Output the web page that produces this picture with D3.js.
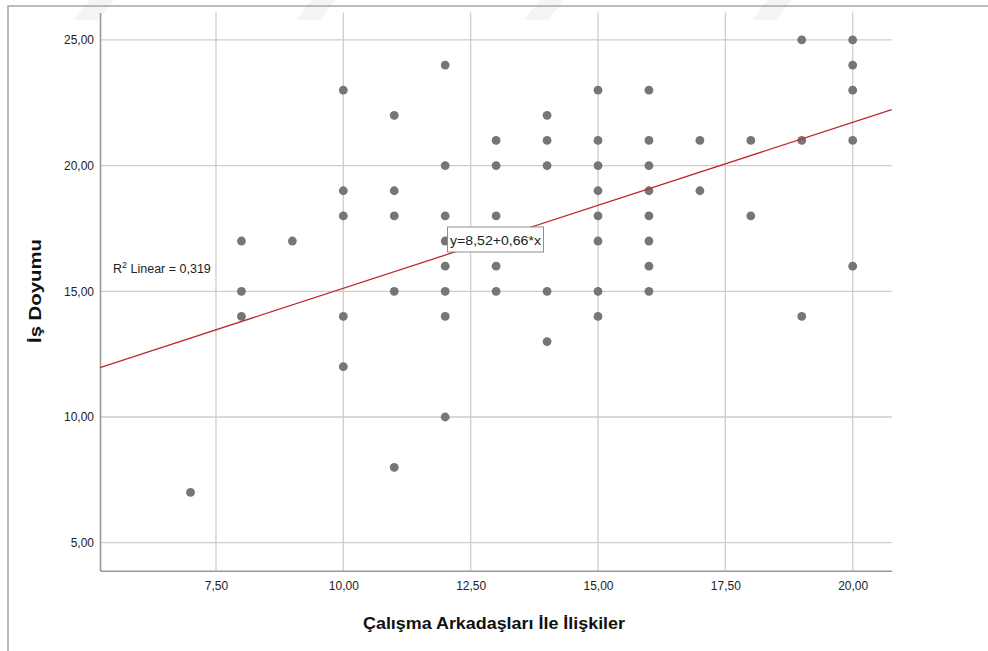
<!DOCTYPE html>
<html>
<head>
<meta charset="utf-8">
<script src="https://cdn.jsdelivr.net/npm/d3@7"></script>
<style>
  html, body { margin: 0; padding: 0; background: #ffffff; }
  svg { display: block; font-family: "Liberation Sans", Arial, sans-serif; }
</style>
</head>
<body>
<svg id="chart" width="988" height="651"></svg>
<script>
// Çalışma Arkadaşları İle İlişkiler (x) vs İş Doyumu (y), one entry per respondent
const xValues = [
  7,
  8, 8, 8,
  9,
  10, 10, 10, 10, 10,
  11, 11, 11, 11, 11,
  12, 12, 12, 12, 12, 12, 12, 12,
  13, 13, 13, 13, 13,
  14, 14, 14, 14, 14,
  15, 15, 15, 15, 15, 15, 15, 15,
  16, 16, 16, 16, 16, 16, 16, 16,
  17, 17,
  18, 18,
  19, 19, 19,
  20, 20, 20, 20, 20
];
const yValues = [
  7,
  17, 15, 14,
  17,
  23, 19, 18, 14, 12,
  22, 19, 18, 15, 8,
  24, 20, 18, 17, 16, 15, 14, 10,
  21, 20, 18, 16, 15,
  22, 21, 20, 15, 13,
  23, 21, 20, 19, 18, 17, 15, 14,
  23, 21, 20, 19, 18, 17, 16, 15,
  21, 19,
  21, 18,
  25, 21, 14,
  25, 24, 23, 21, 16
];

// Linear fit reported for the data
const fitIntercept = 8.52;
const fitSlope = 0.66;
const rSquared = 0.319;

// Axis ticks
const xTicks = [7.5, 10, 12.5, 15, 17.5, 20];
const yTicks = [5, 10, 15, 20, 25];

// Axis extents
const xDomain = [5.223, 20.766];
const yDomain = [3.886, 26.09];

const svg = d3.select("#chart");
const plot = { left: 100, right: 891.7, top: 12.5, bottom: 570.7 };

const fmt = v => d3.format(".2f")(v).replace(".", ",");

const x = d3.scaleLinear().domain(xDomain).range([plot.left, plot.right]);
const y = d3.scaleLinear().domain(yDomain).range([plot.bottom, plot.top]);

// faint diagonal bands along the top edge of the page
const bands = [90, 312, 540, 768];
svg.append("g")
  .selectAll("path")
  .data(bands)
  .join("path")
  .attr("d", b => `M${b},0 L${b + 24},0 L${b + 8},20 L${b - 16},20 Z`)
  .attr("fill", "#f4f4f4");

// outer frame
svg.append("path")
  .attr("d", "M8,651 L8,6 L988,6")
  .attr("fill", "none")
  .attr("stroke", "#a6a6a6")
  .attr("stroke-width", 1.6);

// grid lines
const grid = svg.append("g").attr("class", "grid");
grid.selectAll("line.gx")
  .data(xTicks)
  .join("line")
  .attr("class", "gx")
  .attr("x1", d => x(d)).attr("x2", d => x(d))
  .attr("y1", plot.top).attr("y2", plot.bottom)
  .attr("stroke", "#cdcdcd").attr("stroke-width", 1.3);
grid.selectAll("line.gy")
  .data(yTicks)
  .join("line")
  .attr("class", "gy")
  .attr("x1", plot.left).attr("x2", plot.right)
  .attr("y1", d => y(d)).attr("y2", d => y(d))
  .attr("stroke", "#cdcdcd").attr("stroke-width", 1.3);

// axes
const xAxis = d3.axisBottom(x).tickValues(xTicks).tickFormat(fmt).tickSize(0).tickPadding(11);
const yAxis = d3.axisLeft(y).tickValues(yTicks).tickFormat(fmt).tickSize(0).tickPadding(6);

const gx = svg.append("g").attr("transform", `translate(0,${plot.bottom})`).call(xAxis);
const gy = svg.append("g").attr("transform", `translate(${plot.left},0)`).call(yAxis);
[gx, gy].forEach(g => {
  g.select(".domain").attr("stroke", "#9a9a9a").attr("stroke-width", 1.6);
  g.selectAll("text")
    .attr("font-family", "'Liberation Sans', Arial, sans-serif")
    .attr("font-size", 12)
    .attr("fill", "#222");
});

// points
svg.append("g")
  .selectAll("circle")
  .data(d3.range(xValues.length))
  .join("circle")
  .attr("cx", i => x(xValues[i]))
  .attr("cy", i => y(yValues[i]))
  .attr("r", 4.4)
  .attr("fill", "#767676");

// fit line across the full x extent
const fitLine = d3.line().x(d => x(d)).y(d => y(fitIntercept + fitSlope * d));
svg.append("path")
  .datum(xDomain)
  .attr("d", fitLine)
  .attr("fill", "none")
  .attr("stroke", "#c0282a")
  .attr("stroke-width", 1.3);

// equation label
const eq = svg.append("g").attr("transform", "translate(447.5,227)");
eq.append("rect")
  .attr("width", 96).attr("height", 25)
  .attr("fill", "#ffffff")
  .attr("stroke", "#8f8f8f").attr("stroke-width", 1);
eq.append("text")
  .attr("x", 2.5).attr("y", 17.5)
  .attr("font-size", 13.5)
  .attr("textLength", 91)
  .attr("lengthAdjust", "spacingAndGlyphs")
  .attr("fill", "#222")
  .text(`y=${String(fitIntercept).replace(".", ",")}+${String(fitSlope).replace(".", ",")}*x`);

// R² label
const r2 = svg.append("text")
  .attr("x", 113).attr("y", 273)
  .attr("font-size", 12.5)
  .attr("fill", "#222");
r2.append("tspan").text("R");
r2.append("tspan").attr("dy", -5).attr("font-size", 9).text("2");
r2.append("tspan").attr("dy", 5).text(` Linear = ${d3.format(".3f")(rSquared).replace(".", ",")}`);

// axis titles
svg.append("text")
  .attr("x", 363).attr("y", 628.5)
  .attr("font-size", 16.5)
  .attr("font-weight", "bold")
  .attr("textLength", 262)
  .attr("lengthAdjust", "spacingAndGlyphs")
  .attr("fill", "#111")
  .text("Çalışma Arkadaşları İle İlişkiler");

svg.append("text")
  .attr("transform", "translate(40.5,343) rotate(-90)")
  .attr("font-size", 17)
  .attr("font-weight", "bold")
  .attr("textLength", 104)
  .attr("lengthAdjust", "spacingAndGlyphs")
  .attr("fill", "#111")
  .text("İş Doyumu");
</script>
</body>
</html>
